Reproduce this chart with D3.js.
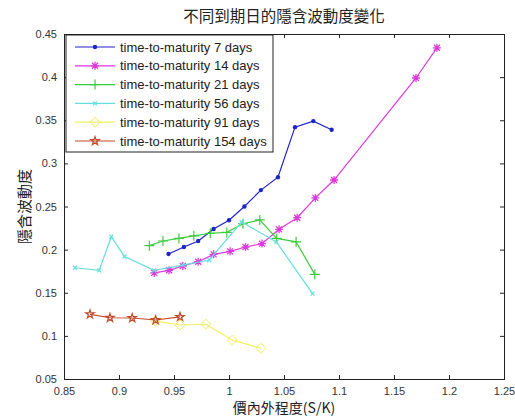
<!DOCTYPE html>
<html>
<head>
<meta charset="utf-8">
<script src="https://cdn.jsdelivr.net/npm/d3@7"></script>
<style>
body { margin: 0; background: #fff; }
text { font-family: "Liberation Sans", Arial, sans-serif; }
.cjk { font-family: "Noto Sans CJK TC", sans-serif; }
</style>
</head>
<body>
<div id="chart"></div>
<script>
// values
var xTicks = [0.85, 0.9, 0.95, 1, 1.05, 1.1, 1.15, 1.2, 1.25];
var yTicks = [0.05, 0.1, 0.15, 0.2, 0.25, 0.3, 0.35, 0.4, 0.45];

var s7x = [0.945, 0.959, 0.972, 0.986, 1.0, 1.014, 1.029, 1.0445, 1.060, 1.0767, 1.0933];
var s7y = [0.195, 0.203, 0.210, 0.224, 0.234, 0.250, 0.269, 0.284, 0.342, 0.349, 0.339];

var s14x = [0.932, 0.9455, 0.958, 0.972, 0.986, 1.001, 1.015, 1.030, 1.0455, 1.062, 1.0785, 1.0955, 1.17, 1.189];
var s14y = [0.173, 0.176, 0.181, 0.186, 0.1945, 0.198, 0.203, 0.207, 0.2235, 0.237, 0.260, 0.2807, 0.399, 0.434];

var s21x = [0.9276, 0.940, 0.9545, 0.968, 0.983, 0.998, 1.0127, 1.028, 1.0434, 1.061, 1.078];
var s21y = [0.2046, 0.210, 0.213, 0.216, 0.219, 0.220, 0.230, 0.2344, 0.213, 0.209, 0.1713];

var s56x = [0.86, 0.882, 0.893, 0.905, 0.932, 0.958, 0.982, 1.0115, 1.043, 1.076];
var s56y = [0.179, 0.176, 0.215, 0.192, 0.176, 0.182, 0.188, 0.232, 0.209, 0.149];

var s91x = [0.933, 0.9555, 0.979, 1.003, 1.029];
var s91y = [0.117, 0.1126, 0.1135, 0.095, 0.0856];

var s154x = [0.8736, 0.8918, 0.912, 0.9333, 0.9555];
var s154y = [0.125, 0.121, 0.1207, 0.1184, 0.122];

var seriesNames = ["time-to-maturity 7 days", "time-to-maturity 14 days", "time-to-maturity 21 days",
  "time-to-maturity 56 days", "time-to-maturity 91 days", "time-to-maturity 154 days"];

var W = 515, H = 418;
var margin = { top: 34, right: 11, bottom: 39, left: 64 };
var width = W - margin.left - margin.right, height = H - margin.top - margin.bottom;

var svg = d3.select('#chart').append('svg').attr('width', W).attr('height', H);
var g = svg.append('g').attr('transform', 'translate(' + margin.left + ',' + margin.top + ')');

var x = d3.scaleLinear().domain([0.85, 1.25]).range([0, width]);
var y = d3.scaleLinear().domain([0.05, 0.45]).range([height, 0]);

function fmt(d) { return String(+d.toFixed(2)); }

// axes, matlab style: ticks inside, on all four sides
g.append('g').attr('transform', 'translate(0,' + height + ')')
  .call(d3.axisBottom(x).tickValues(xTicks).tickSize(-4).tickPadding(8).tickFormat(fmt));
g.append('g')
  .call(d3.axisLeft(y).tickValues(yTicks).tickSize(-4).tickPadding(7).tickFormat(fmt));
g.append('g')
  .call(d3.axisTop(x).tickValues(xTicks).tickSize(-4).tickFormat(''));
g.append('g').attr('transform', 'translate(' + width + ',0)')
  .call(d3.axisRight(y).tickValues(yTicks).tickSize(-4).tickFormat(''));

g.selectAll('.domain').attr('stroke', '#222');
g.selectAll('.tick line').attr('stroke', '#222');
g.selectAll('.tick text').attr('font-size', 11).attr('fill', '#333')
  .attr('font-family', '"Liberation Sans", Arial, sans-serif');

var series = [
  { xs: s7x, ys: s7y, color: '#1f24c8', marker: 'dot' },
  { xs: s14x, ys: s14y, color: '#dc3adc', marker: 'star' },
  { xs: s21x, ys: s21y, color: '#3ccc3c', marker: 'plus' },
  { xs: s56x, ys: s56y, color: '#66dede', marker: 'x' },
  { xs: s91x, ys: s91y, color: '#f2f060', marker: 'diamond' },
  { xs: s154x, ys: s154y, color: '#c44a2c', marker: 'pent' }
];

var line = d3.line().x(function (d) { return x(d[0]); }).y(function (d) { return y(d[1]); });

function drawMarker(sel, type, color) {
  if (type === 'dot') {
    sel.append('circle').attr('r', 2.2).attr('fill', color);
  } else if (type === 'star') {
    sel.append('path').attr('d', 'M-4,0H4M0,-4V4M-3,-3L3,3M-3,3L3,-3')
      .attr('stroke', color).attr('stroke-width', 1.3);
  } else if (type === 'plus') {
    sel.append('path').attr('d', 'M-5,0H5M0,-5V5').attr('stroke', color).attr('stroke-width', 1.2);
  } else if (type === 'x') {
    sel.append('path').attr('d', 'M-2,-2L2,2M-2,2L2,-2').attr('stroke', color).attr('stroke-width', 1.2);
  } else if (type === 'diamond') {
    sel.append('path').attr('d', 'M0,-5L5,0L0,5L-5,0Z').attr('fill', 'none')
      .attr('stroke', color).attr('stroke-width', 1);
  } else if (type === 'pent') {
    sel.append('path').attr('d', d3.symbol(d3.symbolStar, 22)()).attr('fill', 'none')
      .attr('stroke', color).attr('stroke-width', 1.2);
  }
}

series.forEach(function (s) {
  var pts = s.xs.map(function (v, i) { return [v, s.ys[i]]; });
  g.append('path').datum(pts).attr('d', line)
    .attr('fill', 'none').attr('stroke', s.color).attr('stroke-width', 1.2);
  pts.forEach(function (p) {
    var m = g.append('g').attr('transform', 'translate(' + x(p[0]) + ',' + y(p[1]) + ')');
    drawMarker(m, s.marker, s.color);
  });
});

// legend
var lg = g.append('g').attr('transform', 'translate(2,1)');
lg.append('rect').attr('width', 207).attr('height', 117)
  .attr('fill', '#fff').attr('stroke', '#222').attr('stroke-width', 1);
seriesNames.forEach(function (name, i) {
  var row = lg.append('g').attr('transform', 'translate(0,' + (12 + i * 18.8) + ')');
  row.append('line').attr('x1', 9).attr('x2', 49).attr('stroke', series[i].color).attr('stroke-width', 1.2);
  var m = row.append('g').attr('transform', 'translate(29,0)');
  drawMarker(m, series[i].marker, series[i].color);
  row.append('text').attr('x', 54).attr('dy', '0.35em').attr('font-size', 13).attr('fill', '#222').text(name);
});

// title and labels
svg.append('text').attr('class', 'cjk').attr('x', margin.left + width / 2).attr('y', 22)
  .attr('text-anchor', 'middle').attr('font-size', 15.5).attr('fill', '#222').text('不同到期日的隱含波動度變化');
svg.append('text').attr('class', 'cjk').attr('x', margin.left + width / 2).attr('y', 413)
  .attr('text-anchor', 'middle').attr('font-size', 14).attr('fill', '#222').text('價內外程度(S/K)');
svg.append('text').attr('class', 'cjk')
  .attr('transform', 'translate(30,' + (margin.top + height / 2) + ') rotate(-90)')
  .attr('text-anchor', 'middle').attr('font-size', 15).attr('fill', '#222').text('隱含波動度');
</script>
</body>
</html>
